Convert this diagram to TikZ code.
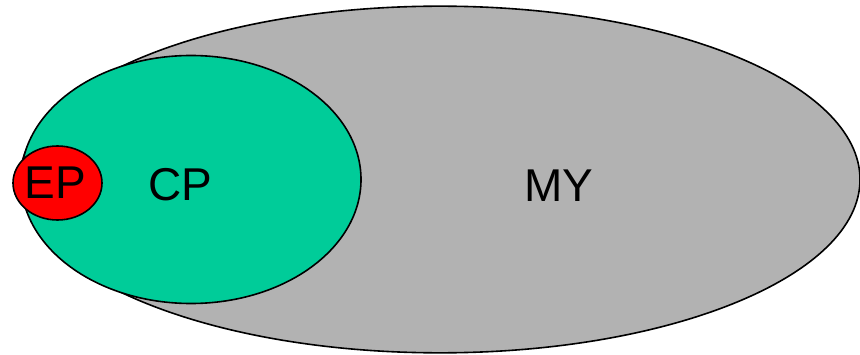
\documentclass[tikz,border=0pt]{standalone}
\usepackage{fontspec}
\setmainfont{Liberation Sans}
\usepackage{tikz}
\usetikzlibrary{shapes.geometric, positioning}
\usepackage{xcolor}

\definecolor{setgray}{RGB}{178,178,178}
\definecolor{setgreen}{RGB}{0,204,153}
\definecolor{setred}{RGB}{255,0,0}

\tikzset{
  setblob/.style={ellipse, draw=black, line width=1.2pt, inner sep=0pt},
  setlabel/.style={font=\fontsize{34.5}{40}\selectfont, inner sep=0pt}
}

\begin{document}
\begin{tikzpicture}[x=0.75pt, y=0.75pt]

  \useasboundingbox (0,0) rectangle (860,354);

  % Outer set
  \node[setblob, fill=setgray, minimum width=630pt, minimum height=260pt] (my) at (440,174.5) {};

  % Middle set
  \node[setblob, fill=setgreen, minimum width=255pt, minimum height=186pt] (cp) at (191,174.5) {};

  % Inner set
  \node[setblob, fill=setred, minimum width=66.75pt, minimum height=55.5pt] (ep) at (57.5,171) {};

  % Labels
  \node[setlabel] (eplabel) at (55.5,171.5) {EP};
  \node[setlabel] (cplabel) at (180,169.5) {CP};
  \node[setlabel] (mylabel) at (559,168.5) {MY};

\end{tikzpicture}
\end{document}
